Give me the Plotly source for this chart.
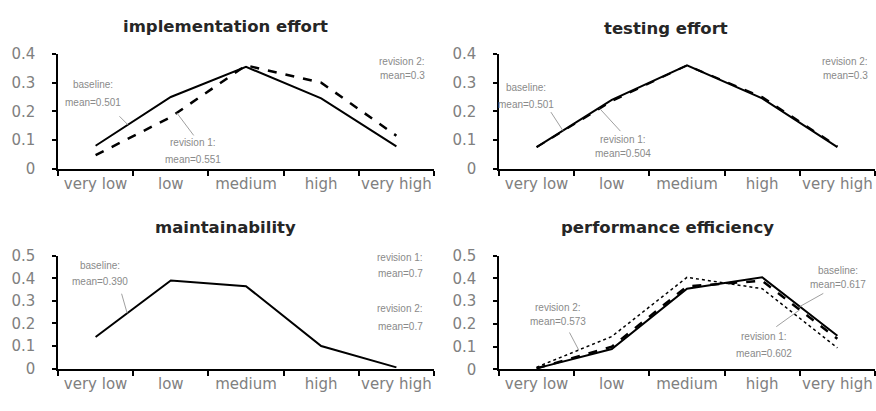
import plotly.graph_objects as go

categories = ["very low", "low", "medium", "high", "very high"]

impl_baseline = [0.08, 0.25, 0.355, 0.245, 0.078]
impl_rev1 = [0.047, 0.18, 0.36, 0.30, 0.115]
test_baseline = [0.075, 0.24, 0.36, 0.245, 0.075]
test_rev1 = [0.075, 0.235, 0.36, 0.25, 0.078]
maint_baseline = [0.14, 0.39, 0.365, 0.10, 0.005]
perf_baseline = [0.005, 0.09, 0.355, 0.405, 0.148]
perf_rev1 = [0.005, 0.10, 0.365, 0.39, 0.135]
perf_rev2 = [0.01, 0.145, 0.405, 0.355, 0.095]

titles = ["implementation effort", "testing effort", "maintainability", "performance efficiency"]
y_max = [0.4, 0.4, 0.5, 0.5]

W, H = 876, 411
# pixel boxes of each plot area: (x0, x1, ytop, ybottom)
boxes = [(58, 434, 47, 167), (499, 875, 47, 167), (58, 434, 258, 376), (499, 875, 258, 377)]
title_pos = [(225, 18), (666, 20), (225, 229), (667, 228)]

series = [
    [(impl_baseline, "solid", 2), (impl_rev1, "dash", 2.5)],
    [(test_baseline, "solid", 2), (test_rev1, "dash", 2)],
    [(maint_baseline, "solid", 2)],
    [(perf_baseline, "solid", 2), (perf_rev1, "dash", 2.5), (perf_rev2, "dot", 1.5)],
]

# leader lines: (panel, series values, segment, fraction, tail dx, tail dy)
leaders = [
    (0, impl_baseline, 0, 0.43, -10, -10),
    (0, impl_rev1, 1, 0.08, 18, 24),
    (1, test_baseline, 0, 0.35, -13, -20),
    (1, test_rev1, 0, 0.84, 22, 24),
    (2, maint_baseline, 0, 0.42, -6, -21),
    (3, perf_rev2, 0, 0.56, -10, -19),
    (3, perf_baseline, 3, 0.5, 25, -14),
    (3, perf_rev1, 3, 0.5, -25, 18),
]
# label texts: (line1, line2, center x px, line1 y px, line2 y px)
labels = [
    ("baseline:", "mean=0.501", 93, 79, 98),
    ("revision 1:", "mean=0.551", 193, 140, 157),
    ("revision 2:", "mean=0.3", 402, 55, 70),
    ("baseline:", "mean=0.501", 526, 82, 100),
    ("revision 1:", "mean=0.504", 623, 137, 151),
    ("revision 2:", "mean=0.3", 845, 55, 70),
    ("baseline:", "mean=0.390", 100, 268, 285),
    ("revision 1:", "mean=0.7", 400, 260, 277),
    ("revision 2:", "mean=0.7", 400, 313, 332),
    ("revision 2:", "mean=0.573", 558, 312, 327),
    ("baseline:", "mean=0.617", 838, 273, 288),
    ("revision 1:", "mean=0.602", 764, 343, 360),
]

LABEL_GRAY = "#8a8a8a"
TICK_GRAY = "#808080"

fig = go.Figure()
layout = dict(width=W, height=H, margin=dict(l=0, r=0, t=0, b=0),
              paper_bgcolor="white", plot_bgcolor="white", showlegend=False)

for i in range(4):
    x0, x1, yt, yb = boxes[i]
    xa = "xaxis" if i == 0 else f"xaxis{i+1}"
    ya = "yaxis" if i == 0 else f"yaxis{i+1}"
    xr = "x" if i == 0 else f"x{i+1}"
    yr = "y" if i == 0 else f"y{i+1}"
    layout[xa] = dict(domain=[x0 / W, x1 / W], anchor=yr, type="category",
                      categoryorder="array", categoryarray=categories,
                      range=[-0.5, 4.5], tickson="boundaries", ticks="outside",
                      ticklen=5, tickwidth=1.5, tickcolor="black", tickangle=0,
                      showline=True, linecolor="black", linewidth=2,
                      showgrid=False, zeroline=False,
                      tickfont=dict(family="DejaVu Sans", size=15, color=TICK_GRAY))
    layout[ya] = dict(domain=[1 - yb / H, 1 - yt / H], anchor=xr,
                      range=[0, y_max[i]], dtick=0.1, tick0=0, ticks="outside",
                      ticklen=4, tickwidth=1.5, tickcolor="black", ticklabelstandoff=14,
                      showline=True, linecolor="black", linewidth=1.5,
                      showgrid=False, zeroline=False,
                      tickfont=dict(family="DejaVu Sans", size=15, color=TICK_GRAY))
    for vals, dash, w in series[i]:
        fig.add_trace(go.Scatter(x=categories, y=vals, mode="lines", xaxis=xr, yaxis=yr,
                                 line=dict(color="black", dash=dash, width=w),
                                 hoverinfo="skip"))

annotations = []
for i, t in enumerate(titles):
    tx, ty = title_pos[i]
    annotations.append(dict(text=f"<b>{t}</b>", x=tx / W, y=1 - ty / H, xref="paper", yref="paper",
                            xanchor="center", yanchor="middle", showarrow=False,
                            font=dict(family="DejaVu Sans", size=16.5, color="#262626")))

for p, vals, seg, frac, ax, ay in leaders:
    xr = "x" if p == 0 else f"x{p+1}"
    yr = "y" if p == 0 else f"y{p+1}"
    xv = seg + frac
    yv = vals[seg] + frac * (vals[seg + 1] - vals[seg])
    annotations.append(dict(text="", x=xv, y=yv, xref=xr, yref=yr,
                            showarrow=True, arrowhead=0, arrowwidth=1, arrowcolor="#a0a0a0",
                            ax=ax, ay=ay, axref="pixel", ayref="pixel"))

for l1, l2, cx, y1, y2 in labels:
    for txt, yy in ((l1, y1), (l2, y2)):
        annotations.append(dict(text=txt, x=cx / W, y=1 - yy / H, xref="paper", yref="paper",
                                xanchor="center", yanchor="middle", showarrow=False,
                                font=dict(family="Liberation Sans", size=10, color=LABEL_GRAY)))

layout["annotations"] = annotations
fig.update_layout(**layout)
fig.write_html("out.html", config={"displayModeBar": False},
               post_script="document.body.style.margin='0';document.body.style.padding='0';")
